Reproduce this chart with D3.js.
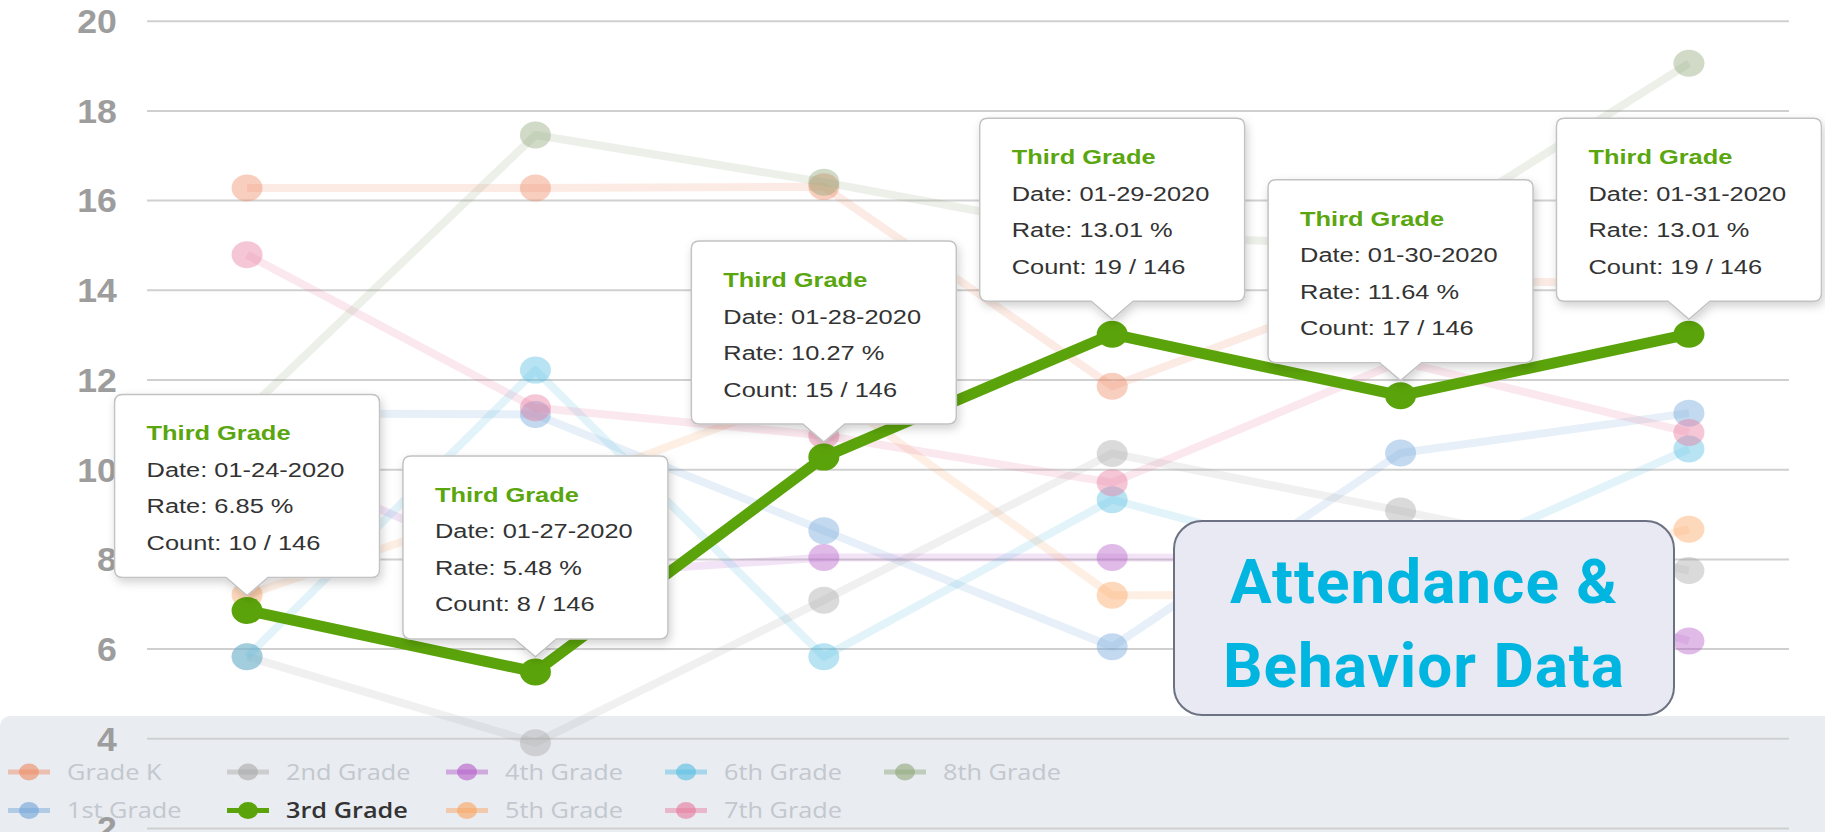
<!DOCTYPE html>
<html>

<head>
    <meta charset="utf-8">
    <title>Attendance & Behavior Data</title>
    <style>
        html,
        body {
            margin: 0px;
            padding: 0px;
            background: #fff;
        }

        svg {
            display: block;
        }

        .ylab text {
            font-family: "Liberation Sans", Arial, sans-serif;
            font-weight: bold;
            font-size: 33px;
            fill: #9d9d9d;
        }

        .ylab line {
            stroke: #d0d0d0;
            stroke-width: 2px;
        }

        .tip-title {
            font-family: "Liberation Sans", Arial, sans-serif;
            font-weight: bold;
            font-size: 20px;
            fill: #5aa60f;
        }

        .tip-line {
            font-family: "Liberation Sans", Arial, sans-serif;
            font-size: 20px;
            fill: #333;
        }

        .legend-text {
            font-family: "Open Sans", sans-serif;
            font-size: 22px;
            fill: #c3c7ce;
        }

        .legend-text.active {
            fill: #333;
            font-weight: 600;
        }

        .big-title {
            font-family: Roboto, sans-serif;
            font-weight: bold;
            font-size: 62px;
            fill: #00b5e0;
            letter-spacing: 1px;
        }
    </style>
    <script src="https://d3js.org/d3.v7.min.js"></script>
</head>

<body>
    <script>

        // data
        var dates = ["01-24-2020", "01-27-2020", "01-28-2020", "01-29-2020", "01-30-2020", "01-31-2020"];

        var gradeK = [16.27, 16.27, 16.3, 11.85, 14.25, 14.1];
        var grade1 = [11.25, 11.22, 8.63, 6.04, 10.36, 11.25];
        var grade2 = [5.82, 3.9, 7.08, 10.35, 9.07, 7.74];
        var grade3 = [6.85, 5.48, 10.27, 13.01, 11.64, 13.01];
        var grade4 = [10.4, 7.6, 8.03, 8.03, 8.0, 6.17];
        var grade5 = [7.2, 9.4, 11.8, 7.19, 7.2, 8.66];
        var grade6 = [5.82, 12.21, 5.82, 9.32, 7.6, 10.45];
        var grade7 = [14.78, 11.37, 10.75, 9.7, 12.4, 10.82];
        var grade8 = [11.3, 17.45, 16.4, 15.2, 15.0, 19.05];

        var counts = [10, 8, 15, 19, 17, 19];
        var total = 146;

        var seriesNames = ["Grade K", "1st Grade", "2nd Grade", "3rd Grade", "4th Grade",
                           "5th Grade", "6th Grade", "7th Grade", "8th Grade"];
        var seriesValues = [gradeK, grade1, grade2, grade3, grade4, grade5, grade6, grade7, grade8];
        var seriesColors = ["#ee8a63", "#6fa4d8", "#a8a8a8", "#5ba30a", "#b45cc8",
                            "#fca35d", "#55bde3", "#e8789d", "#8fa67a"];

        var activeName = "3rd Grade";
        var tipTitle = "Third Grade";
        var yTicks = [2, 4, 6, 8, 10, 12, 14, 16, 18, 20];
        var titleLines = ["Attendance &", "Behavior Data"];

        var width = 1825, height = 832;
        var left = 147, right = 1789;

        var svg = d3.select("body").append("svg")
            .attr("width", width)
            .attr("height", height);

        var defs = svg.append("defs");
        var shadow = defs.append("filter").attr("id", "shadow")
            .attr("x", "-20%").attr("y", "-20%").attr("width", "140%").attr("height", "150%");
        shadow.append("feDropShadow")
            .attr("dx", 2).attr("dy", 4)
            .attr("stdDeviation", 5)
            .attr("flood-color", "#000")
            .attr("flood-opacity", 0.18);

        var xScale = d3.scalePoint().domain(dates).range([left, right]).padding(0.347);
        var yScale = d3.scaleLinear().domain([2, 20]).range([828, 20.7]);

        // legend band behind the bottom of the plot
        svg.append("rect")
            .attr("x", 0).attr("y", 716)
            .attr("width", width + 20).attr("height", 140)
            .attr("rx", 10)
            .attr("fill", "#e9ecf1");

        // y axis + grid
        var yAxis = d3.axisLeft(yScale)
            .tickValues(yTicks)
            .tickSize(-(right - left))
            .tickPadding(28);

        var axisG = svg.append("g")
            .attr("class", "ylab")
            .attr("transform", "translate(" + left + ",0)")
            .call(yAxis);

        axisG.select(".domain").remove();
        axisG.selectAll("text")
            .attr("dy", "0.36em")
            .attr("transform", "scale(1.08,1)");

        var line = d3.line()
            .x(function(d, i) { return xScale(dates[i]); })
            .y(function(d) { return yScale(d); });

        // faded series first, active one on top
        var order = seriesNames.map(function(n, i) { return i; })
            .sort(function(a, b) {
                return (seriesNames[a] === activeName) - (seriesNames[b] === activeName);
            });

        order.forEach(function(si) {
            var active = seriesNames[si] === activeName;
            var g = svg.append("g").attr("class", "series");

            g.append("path")
                .attr("d", line(seriesValues[si]))
                .attr("fill", "none")
                .attr("stroke", seriesColors[si])
                .attr("stroke-width", active ? 11 : 8)
                .attr("stroke-linejoin", "round")
                .attr("opacity", active ? 1 : 0.17);

            g.selectAll("ellipse").data(seriesValues[si])
                .enter().append("ellipse")
                .attr("cx", function(d, i) { return xScale(dates[i]); })
                .attr("cy", function(d) { return yScale(d); })
                .attr("rx", 15.5)
                .attr("ry", 13.5)
                .attr("fill", seriesColors[si])
                .attr("opacity", active ? 1 : 0.42);
        });

        // tooltips for every 3rd grade point
        var boxW = 265, boxH = 183, rad = 8, ptrW = 21, ptrH = 18;

        function tipPath(bx, by, cx) {
            return "M" + (bx + rad) + "," + by +
                "H" + (bx + boxW - rad) +
                "Q" + (bx + boxW) + "," + by + " " + (bx + boxW) + "," + (by + rad) +
                "V" + (by + boxH - rad) +
                "Q" + (bx + boxW) + "," + (by + boxH) + " " + (bx + boxW - rad) + "," + (by + boxH) +
                "H" + (cx + ptrW) +
                "L" + cx + "," + (by + boxH + ptrH) +
                "L" + (cx - ptrW) + "," + (by + boxH) +
                "H" + (bx + rad) +
                "Q" + bx + "," + (by + boxH) + " " + bx + "," + (by + boxH - rad) +
                "V" + (by + rad) +
                "Q" + bx + "," + by + " " + (bx + rad) + "," + by + "Z";
        }

        var tips = svg.append("g").attr("class", "tips");

        grade3.forEach(function(v, i) {
            var px = xScale(dates[i]);
            var py = yScale(v);
            var bx = px - boxW / 2;
            var by = py - 33 - boxH;

            var t = tips.append("g");

            t.append("path")
                .attr("d", tipPath(bx, by, px))
                .attr("fill", "#fff")
                .attr("stroke", "#c2c2c2")
                .attr("stroke-width", 1.5)
                .attr("filter", "url(#shadow)");

            var rows = [
                tipTitle,
                "Date: " + dates[i],
                "Rate: " + v.toFixed(2) + " %",
                "Count: " + counts[i] + " / " + total
            ];

            rows.forEach(function(txt, k) {
                t.append("text")
                    .attr("class", k === 0 ? "tip-title" : "tip-line")
                    .attr("transform", "translate(" + (bx + 32) + "," + (by + 46 + k * 36.5) + ") scale(1.27,1)")
                    .text(txt);
            });
        });

        // legend
        var legend = svg.append("g").attr("class", "legend");

        seriesNames.forEach(function(name, i) {
            var active = name === activeName;
            var col = Math.floor(i / 2), row = i % 2;
            var cx = 29 + col * 219;
            var cy = 772 + row * 38.5;
            var item = legend.append("g");

            item.append("line")
                .attr("x1", cx - 21).attr("x2", cx + 21)
                .attr("y1", cy).attr("y2", cy)
                .attr("stroke", seriesColors[i])
                .attr("stroke-width", 5)
                .attr("opacity", active ? 1 : 0.45);

            item.append("ellipse")
                .attr("cx", cx).attr("cy", cy)
                .attr("rx", 10).attr("ry", 8.5)
                .attr("fill", seriesColors[i])
                .attr("opacity", active ? 1 : 0.6);

            item.append("text")
                .attr("class", active ? "legend-text active" : "legend-text")
                .attr("transform", "translate(" + (cx + 38) + "," + cy + ") scale(1.15,1)")
                .attr("dy", "0.35em")
                .text(name);
        });

        // title badge
        var badge = svg.append("g").attr("class", "badge");

        badge.append("rect")
            .attr("x", 1174).attr("y", 521)
            .attr("width", 500).attr("height", 194)
            .attr("rx", 28)
            .attr("fill", "#e8e9f2")
            .attr("stroke", "#6c7282")
            .attr("stroke-width", 2);

        badge.selectAll("text").data(titleLines)
            .enter().append("text")
            .attr("class", "big-title")
            .attr("x", 1424)
            .attr("y", function(d, i) { return 603 + i * 84; })
            .attr("text-anchor", "middle")
            .text(function(d) { return d; });

    </script>
</body>

</html>
